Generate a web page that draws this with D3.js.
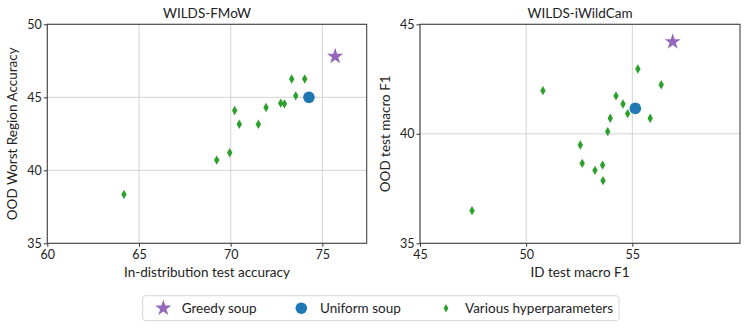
<!DOCTYPE html>
<html><head><meta charset="utf-8">
<script src="https://cdn.jsdelivr.net/npm/d3@7"></script>
<style>
body{margin:0;background:#fff;}
text{font-family:Lato,"DejaVu Sans",sans-serif;fill:#222;}
</style></head>
<body><svg id="c" width="747" height="329"></svg>
<script>
// FMoW panel
const fmowTitle = "WILDS-FMoW";
const fmowXLabel = "In-distribution test accuracy";
const fmowYLabel = "OOD Worst Region Accuracy";
const fmowXTicks = [60, 65, 70, 75];
const fmowYTicks = [35, 40, 45, 50];
const fmowGreedy = [75.7, 47.8];
const fmowUniform = [74.27, 45.0];
const fmowVariousX = [73.33, 74.04, 73.55, 72.73, 72.93, 71.93, 70.22, 70.47, 71.51, 69.95, 69.24, 64.18];
const fmowVariousY = [46.25, 46.25, 45.1, 44.6, 44.55, 44.3, 44.1, 43.15, 43.15, 41.2, 40.7, 38.35];

// iWildCam panel
const camTitle = "WILDS-iWildCam";
const camXLabel = "ID test macro F1";
const camYLabel = "OOD test macro F1";
const camXTicks = [45, 50, 55];
const camYTicks = [35, 40, 45];
const camGreedy = [56.9, 44.2];
const camUniform = [55.14, 41.16];
const camVariousX = [55.26, 56.36, 50.79, 54.23, 54.56, 54.78, 53.96, 55.84, 53.84, 52.55, 52.64, 53.6, 53.24, 53.62, 47.45];
const camVariousY = [42.96, 42.24, 41.97, 41.73, 41.36, 40.92, 40.71, 40.71, 40.1, 39.49, 38.65, 38.57, 38.33, 37.86, 36.49];

const legendLabels = ["Greedy soup", "Uniform soup", "Various hyperparameters"];
const colors = {greedy: "#9467bd", uniform: "#1f77b4", various: "#2ca02c"};

const svg = d3.select("#c");
const starSym = d3.symbol().type(d3.symbolStar).size(82);
function diamondPath(w, h){ return `M0,${-h}L${w},0L0,${h}L${-w},0Z`; }

function panel(opt){
  const g = svg.append("g");
  const x = d3.scaleLinear().domain(opt.xDomain).range([opt.left, opt.right]);
  const y = d3.scaleLinear().domain(opt.yDomain).range([opt.bottom, opt.top]);
  // grid
  g.append("g").selectAll("line").data(opt.xTicks).join("line")
    .attr("x1", d=>x(d)).attr("x2", d=>x(d)).attr("y1", opt.top).attr("y2", opt.bottom)
    .attr("stroke", "#cfcfcf").attr("stroke-width", 0.9);
  g.append("g").selectAll("line").data(opt.yTicks).join("line")
    .attr("y1", d=>y(d)).attr("y2", d=>y(d)).attr("x1", opt.left).attr("x2", opt.right)
    .attr("stroke", "#cfcfcf").attr("stroke-width", 0.9);
  // axes
  const xa = g.append("g").attr("transform", `translate(0,${opt.bottom})`)
    .call(d3.axisBottom(x).tickValues(opt.xTicks).tickSize(3.5).tickPadding(3));
  const ya = g.append("g").attr("transform", `translate(${opt.left},0)`)
    .call(d3.axisLeft(y).tickValues(opt.yTicks).tickSize(3.5).tickPadding(2));
  [xa, ya].forEach(a=>{
    a.select(".domain").remove();
    a.selectAll("line").attr("stroke", "#333");
    a.selectAll("text").attr("font-size", 12.5).attr("fill", "#222").style("font-family", "Lato, DejaVu Sans, sans-serif");
  });
  // frame
  g.append("rect").attr("x", opt.left).attr("y", opt.top)
    .attr("width", opt.right-opt.left).attr("height", opt.bottom-opt.top)
    .attr("fill", "none").attr("stroke", "#444").attr("stroke-width", 1.1);
  // points
  const various = opt.vx.map((v,i)=>[v, opt.vy[i]]);
  g.append("g").selectAll("path").data(various).join("path")
    .attr("transform", d=>`translate(${x(d[0])},${y(d[1])})`)
    .attr("d", diamondPath(2.7, 4.7)).attr("fill", colors.various);
  g.append("circle").attr("cx", x(opt.uniform[0])).attr("cy", y(opt.uniform[1]))
    .attr("r", 5.8).attr("fill", colors.uniform);
  g.append("path").attr("transform", `translate(${x(opt.greedy[0])},${y(opt.greedy[1])})`)
    .attr("d", starSym()).attr("fill", colors.greedy);
  // labels
  g.append("text").attr("x", (opt.left+opt.right)/2).attr("y", opt.top-6)
    .attr("text-anchor", "middle").attr("font-size", 13.5).text(opt.title);
  g.append("text").attr("x", (opt.left+opt.right)/2).attr("y", opt.bottom+34)
    .attr("text-anchor", "middle").attr("font-size", 13.5).text(opt.xLabel);
  g.append("text").attr("transform", `translate(${opt.ylx},${(opt.top+opt.bottom)/2}) rotate(-90)`)
    .attr("text-anchor", "middle").attr("font-size", 13.5).text(opt.yLabel);
}

panel({left: 47.3, right: 366.7, top: 24.3, bottom: 243.3, xDomain: [60, 77.42], yDomain: [35, 50],
  xTicks: fmowXTicks, yTicks: fmowYTicks, title: fmowTitle, xLabel: fmowXLabel, yLabel: fmowYLabel,
  greedy: fmowGreedy, uniform: fmowUniform, vx: fmowVariousX, vy: fmowVariousY, ylx: 17});
panel({left: 420, right: 740, top: 24.3, bottom: 243.3, xDomain: [45, 60.07], yDomain: [35, 45],
  xTicks: camXTicks, yTicks: camYTicks, title: camTitle, xLabel: camXLabel, yLabel: camYLabel,
  greedy: camGreedy, uniform: camUniform, vx: camVariousX, vy: camVariousY, ylx: 390});

// legend
const lg = svg.append("g");
lg.append("rect").attr("x", 142.7).attr("y", 295.7).attr("width", 476.3).attr("height", 25)
  .attr("rx", 3).attr("fill", "#fff").attr("stroke", "#d6d6d6").attr("stroke-width", 1);
const lx = [163.3, 301.3, 446];
const tx = [181.7, 320, 465];
const ly = 308.2;
lg.append("path").attr("transform", `translate(${lx[0]},${ly})`).attr("d", starSym()).attr("fill", colors.greedy);
lg.append("circle").attr("cx", lx[1]).attr("cy", ly).attr("r", 5.8).attr("fill", colors.uniform);
lg.append("path").attr("transform", `translate(${lx[2]},${ly})`).attr("d", diamondPath(2.4, 4.2)).attr("fill", colors.various);
legendLabels.forEach((t,i)=>{
  lg.append("text").attr("x", tx[i]).attr("y", ly).attr("dy", "0.35em").attr("font-size", 13.5).text(t);
});
</script></body></html>
